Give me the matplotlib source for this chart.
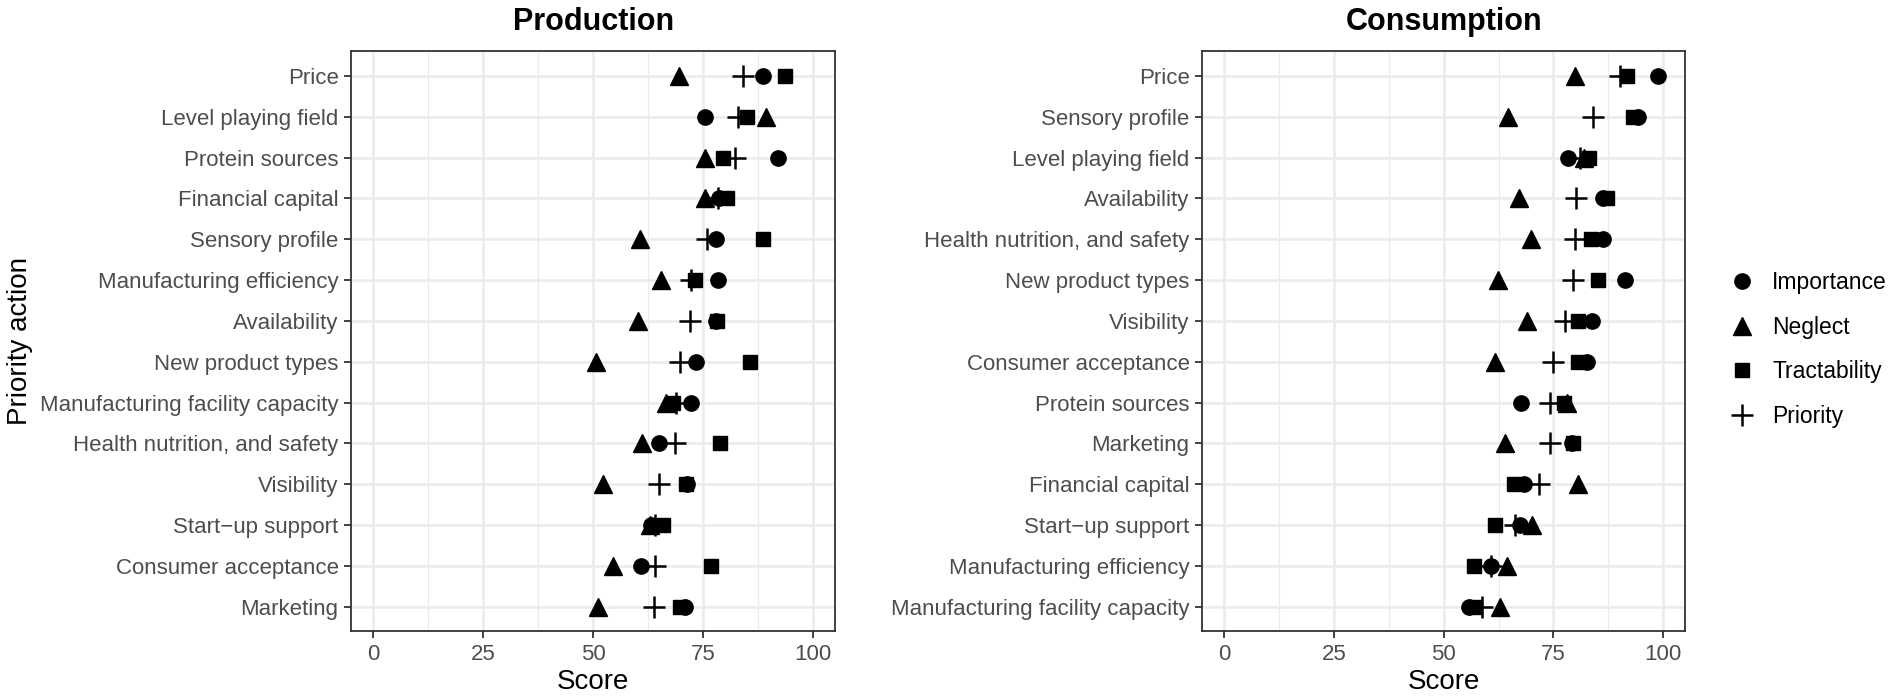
import matplotlib.pyplot as plt
from matplotlib.lines import Line2D

plt.rcParams['font.family'] = ['Liberation Sans', 'DejaVu Sans']

# Production panel (top to bottom)
prod_actions = ['Price', 'Level playing field', 'Protein sources', 'Financial capital',
                'Sensory profile', 'Manufacturing efficiency', 'Availability',
                'New product types', 'Manufacturing facility capacity',
                'Health nutrition, and safety', 'Visibility', 'Start\u2212up support',
                'Consumer acceptance', 'Marketing']
prod_importance = [88.7, 75.5, 92.1, 78.6, 77.9, 78.3, 77.9, 73.3, 72.3, 64.9, 71.3, 63.2, 60.8, 70.8]
prod_neglect = [69.5, 89.2, 75.5, 75.5, 60.7, 65.5, 60.2, 50.6, 66.5, 61.0, 52.3, 62.9, 54.5, 51.1]
prod_tractability = [93.7, 84.9, 79.6, 80.4, 88.7, 73.1, 78.2, 85.6, 68.2, 78.9, 71.1, 65.9, 76.8, 69.7]
prod_priority = [84.0, 83.0, 82.3, 78.3, 75.8, 72.3, 72.1, 69.8, 68.9, 68.6, 64.9, 64.0, 64.0, 63.9]

# Consumption panel (top to bottom)
cons_actions = ['Price', 'Sensory profile', 'Level playing field', 'Availability',
                'Health nutrition, and safety', 'New product types', 'Visibility',
                'Consumer acceptance', 'Protein sources', 'Marketing', 'Financial capital',
                'Start\u2212up support', 'Manufacturing efficiency',
                'Manufacturing facility capacity']
cons_importance = [98.9, 94.3, 78.3, 86.4, 86.2, 91.3, 83.7, 82.7, 67.6, 79.3, 68.2, 67.3, 60.7, 55.7]
cons_neglect = [79.9, 64.6, 82.0, 67.2, 69.9, 62.3, 68.9, 61.6, 78.0, 63.9, 80.7, 70.1, 64.5, 62.9]
cons_tractability = [91.7, 93.2, 83.0, 87.1, 83.6, 85.2, 80.5, 80.5, 77.3, 79.5, 66.1, 61.6, 57.0, 57.2]
cons_priority = [90.2, 84.1, 81.1, 80.2, 79.9, 79.5, 77.7, 75.0, 74.2, 74.2, 71.7, 66.3, 60.7, 58.7]

measures = ['Importance', 'Neglect', 'Tractability', 'Priority']
markers = {'Importance': dict(marker='o', ms=11),
           'Neglect': dict(marker='^', ms=12.5),
           'Tractability': dict(marker='s', ms=10),
           'Priority': dict(marker='+', ms=16, mew=1.8)}

fig = plt.figure(figsize=(19.02, 6.99), dpi=100)
ax1 = fig.add_axes([0.1846, 0.097, 0.2545, 0.8295])
ax2 = fig.add_axes([0.6320, 0.097, 0.2540, 0.8295])

panels = [(ax1, 'Production', prod_actions,
           [prod_importance, prod_neglect, prod_tractability, prod_priority]),
          (ax2, 'Consumption', cons_actions,
           [cons_importance, cons_neglect, cons_tractability, cons_priority])]

for ax, title, actions, series in panels:
    ypos = list(range(len(actions)))[::-1]
    for name, vals in zip(measures, series):
        ax.plot(vals, ypos, linestyle='none', color='black', zorder=3, **markers[name])
    ax.set_yticks(ypos)
    ax.set_yticklabels(actions)
    ax.set_xlim(-5, 105)
    ax.set_ylim(-0.6, len(actions) - 0.4)
    ax.set_xticks([0, 25, 50, 75, 100])
    ax.set_xticks([12.5, 37.5, 62.5, 87.5], minor=True)
    ax.grid(which='major', color='#ebebeb', linewidth=1.8, zorder=0)
    ax.grid(which='minor', axis='x', color='#ebebeb', linewidth=0.9, zorder=0)
    ax.tick_params(which='minor', length=0)
    ax.tick_params(which='major', length=5, width=1.3, color='#333333',
                   labelcolor='#4d4d4d', labelsize=16, pad=4)
    for sp in ax.spines.values():
        sp.set_color('#333333')
        sp.set_linewidth(1.3)
    ax.set_axisbelow(True)
    ax.set_xlabel('Score', fontsize=20, labelpad=3)
    pos = ax.get_position()
    fig.text((pos.x0 + pos.x1) / 2, 0.969, title, ha='center', va='center',
             fontsize=22, fontweight='bold')

ax1.set_ylabel('Priority action', fontsize=20, labelpad=5)

handles = [Line2D([], [], linestyle='none', color='black', **markers[m]) for m in measures]
fig.legend(handles, measures, loc='center left', bbox_to_anchor=(0.898, 0.50),
           frameon=False, fontsize=16.5, labelspacing=0.95, handletextpad=0.7,
           handlelength=1.2)

fig.savefig('out.png', dpi=100)
